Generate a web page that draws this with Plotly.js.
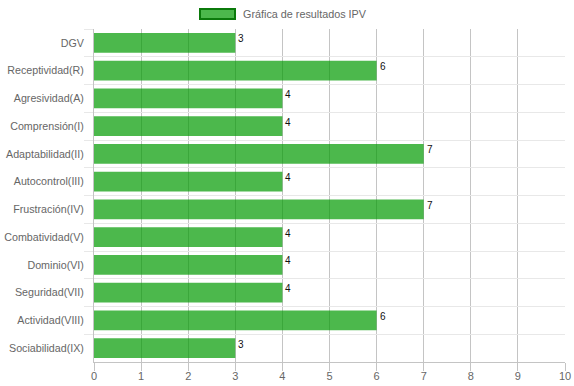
<!DOCTYPE html>
<html>
<head>
<meta charset="utf-8">
<script src="https://cdn.plot.ly/plotly-3.0.1.min.js"></script>
<style>html,body{margin:0;padding:0;background:#fff;}#chart{width:574px;height:386px;}</style>
</head>
<body>
<div id="chart"></div>
<script>
var categories = ["DGV","Receptividad(R)","Agresividad(A)","Comprensión(I)","Adaptabilidad(II)","Autocontrol(III)","Frustración(IV)","Combatividad(V)","Dominio(VI)","Seguridad(VII)","Actividad(VIII)","Sociabilidad(IX)"];
var values = [3,6,4,4,7,4,7,4,4,4,6,3];
var seriesName = "Gráfica de resultados IPV";
var xTicks = [0,1,2,3,4,5,6,7,8,9,10];

var trace = {
  type: "bar",
  orientation: "h",
  x: values,
  y: categories,
  name: seriesName,
  marker: {color: "rgba(3,155,3,0.71)", line: {width: 0}},
  hoverinfo: "x+y",
  showlegend: false
};

var annotations = values.map(function(v, i){
  return {x: v, y: categories[i], xref: "x", yref: "y", text: String(v), showarrow: false,
    xanchor: "left", yanchor: "middle", xshift: 1, yshift: 4,
    font: {family: "Liberation Sans, Arial, sans-serif", size: 10, color: "#111"}};
});

var layout = {
  width: 574, height: 386,
  margin: {l: 94, r: 9, t: 29, b: 24, pad: 0},
  paper_bgcolor: "#fff", plot_bgcolor: "#fff",
  font: {family: "Liberation Sans, Arial, sans-serif", size: 11, color: "#666"},
  bargap: 0.28,
  showlegend: false,
  xaxis: {
    range: [0, 10], tickvals: xTicks, ticktext: xTicks.map(String),
    showgrid: true, gridcolor: "#c4c4c4", gridwidth: 1,
    zeroline: false, showline: true, linecolor: "#c4c4c4", linewidth: 1,
    ticks: "outside", ticklen: 8, tickcolor: "#c4c4c4",
    ticklabelstandoff: -4,
    tickfont: {size: 11, color: "#666"}, fixedrange: true
  },
  yaxis: {
    type: "category", autorange: "reversed", tickson: "boundaries",
    showgrid: true, gridcolor: "#e8e8e8", gridwidth: 1,
    zeroline: false, showline: true, linecolor: "#c4c4c4", linewidth: 1,
    ticks: "outside", ticklen: 9, tickcolor: "#e8e8e8",
    ticklabelstandoff: 7,
    tickfont: {size: 10.7, color: "#666"}, fixedrange: true
  },
  shapes: [
    {type: "rect", xref: "paper", yref: "paper",
     x0: (200-94)/471, x1: (235-94)/471, y0: (362-19)/333, y1: (362-9)/333,
     fillcolor: "rgba(3,155,3,0.71)", line: {color: "#0b7a0b", width: 2}}
  ],
  annotations: annotations.concat([
    {xref: "paper", yref: "paper", x: (241-94)/471, y: (362-13.5)/333, xanchor: "left", yanchor: "middle",
     text: seriesName, showarrow: false, font: {size: 10.8, color: "#666"}}
  ])
};

Plotly.newPlot("chart", [trace], layout, {displayModeBar: false, staticPlot: true});
</script>
</body>
</html>
